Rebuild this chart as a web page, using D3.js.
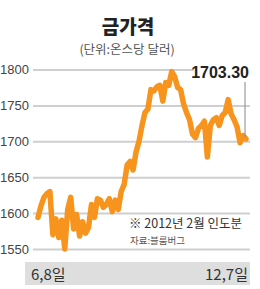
<!DOCTYPE html>
<html>
<head>
<meta charset="utf-8">
<script src="https://cdn.jsdelivr.net/npm/d3@7"></script>
<style>
  body { margin: 0; background: #fff; }
  svg { display: block; }
</style>
</head>
<body>
<div id="chart"></div>
<script>
var width = 260,
    height = 289;

// gold price, USD per ounce, Jun 8 -> Dec 7
var prices = [1594, 1610, 1622, 1627, 1630, 1570, 1592, 1566, 1590, 1550,
              1605, 1622, 1578, 1598, 1568, 1588, 1572, 1580, 1612, 1594,
              1620, 1618, 1608, 1612, 1620, 1602, 1618, 1605, 1630, 1640,
              1667, 1672, 1660, 1685, 1700, 1722, 1740, 1745, 1772, 1770,
              1776, 1778, 1756, 1782, 1778, 1797, 1790, 1775, 1772, 1752,
              1740, 1730, 1710, 1705, 1718, 1722, 1728, 1678, 1722, 1730,
              1733, 1722, 1736, 1740, 1758, 1738, 1730, 1720, 1698, 1708, 1703.3];
var yTicks = [1550, 1600, 1650, 1700, 1750, 1800];
var startLabel = "6,8일",
    endLabel = "12,7일",
    lastLabel = "1703.30";

var numFont = "'Liberation Sans Narrow', 'Liberation Sans', Arial, sans-serif",
    krFont = "'Noto Sans CJK KR', 'Noto Sans', sans-serif";

var svg = d3.select("#chart").append("svg")
  .attr("width", width)
  .attr("height", height);

var x = d3.scaleLinear().domain([0, prices.length - 1]).range([38, 246]);
var y = d3.scaleLinear().domain([1550, 1800]).range([249, 69.5]);

// title
svg.append("text").attr("x", 128).attr("y", 34)
  .attr("text-anchor", "middle")
  .style("font-family", krFont).style("font-weight", "900").style("font-size", "19px")
  .attr("fill", "#222").text("금가격");
svg.append("text").attr("x", 127).attr("y", 54)
  .attr("text-anchor", "middle")
  .style("font-family", krFont).style("font-size", "12.5px")
  .attr("fill", "#555").text("(단위:온스당 달러)");

// grid + y labels
var yAxis = d3.axisLeft(y).tickValues(yTicks).tickFormat(d3.format("d"))
  .tickSize(-217).tickPadding(4);
var ga = svg.append("g").attr("transform", "translate(33,0)").call(yAxis);
ga.select(".domain").remove();
ga.selectAll(".tick line").attr("stroke", "#cfcfcf").attr("stroke-width", 2);
ga.selectAll(".tick text")
  .style("font-family", numFont).style("font-size", "13px")
  .attr("fill", "#444");

// bottom band
svg.append("rect").attr("x", 25).attr("y", 262).attr("width", 225).attr("height", 23)
  .attr("fill", "#dedede");
svg.append("text").attr("x", 31).attr("y", 280)
  .style("font-family", krFont).style("font-size", "15px").attr("fill", "#333")
  .text(startLabel);
svg.append("text").attr("x", 248).attr("y", 280).attr("text-anchor", "end")
  .style("font-family", krFont).style("font-size", "15px").attr("fill", "#333")
  .text(endLabel);

// notes
svg.append("text").attr("x", 129).attr("y", 228)
  .style("font-family", krFont).style("font-size", "12.5px").attr("fill", "#333")
  .text("※ 2012년 2월 인도분");
svg.append("text").attr("x", 130).attr("y", 244)
  .style("font-family", krFont).style("font-size", "9.5px").attr("fill", "#555")
  .text("자료:블룸버그");

// price line
var line = d3.line()
  .x(function (d, i) { return x(i); })
  .y(function (d) { return y(d); });

svg.append("path").datum(prices)
  .attr("d", line)
  .attr("fill", "none")
  .attr("stroke", "#f7941d")
  .attr("stroke-width", 5.5)
  .attr("stroke-linejoin", "round")
  .attr("stroke-linecap", "round");

// last value callout
var lx = x(prices.length - 1) - 1;
svg.append("rect").attr("x", 194).attr("y", 63).attr("width", 60).attr("height", 16).attr("fill", "#fff");
svg.append("line")
  .attr("x1", lx).attr("x2", lx)
  .attr("y1", 82).attr("y2", y(prices[prices.length - 1]) - 2)
  .attr("stroke", "#888").attr("stroke-width", 1);
svg.append("text").attr("x", 249).attr("y", 78).attr("text-anchor", "end")
  .style("font-family", numFont).style("font-weight", "bold").style("font-size", "16px")
  .attr("fill", "#222").text(lastLabel);
</script>
</body>
</html>
